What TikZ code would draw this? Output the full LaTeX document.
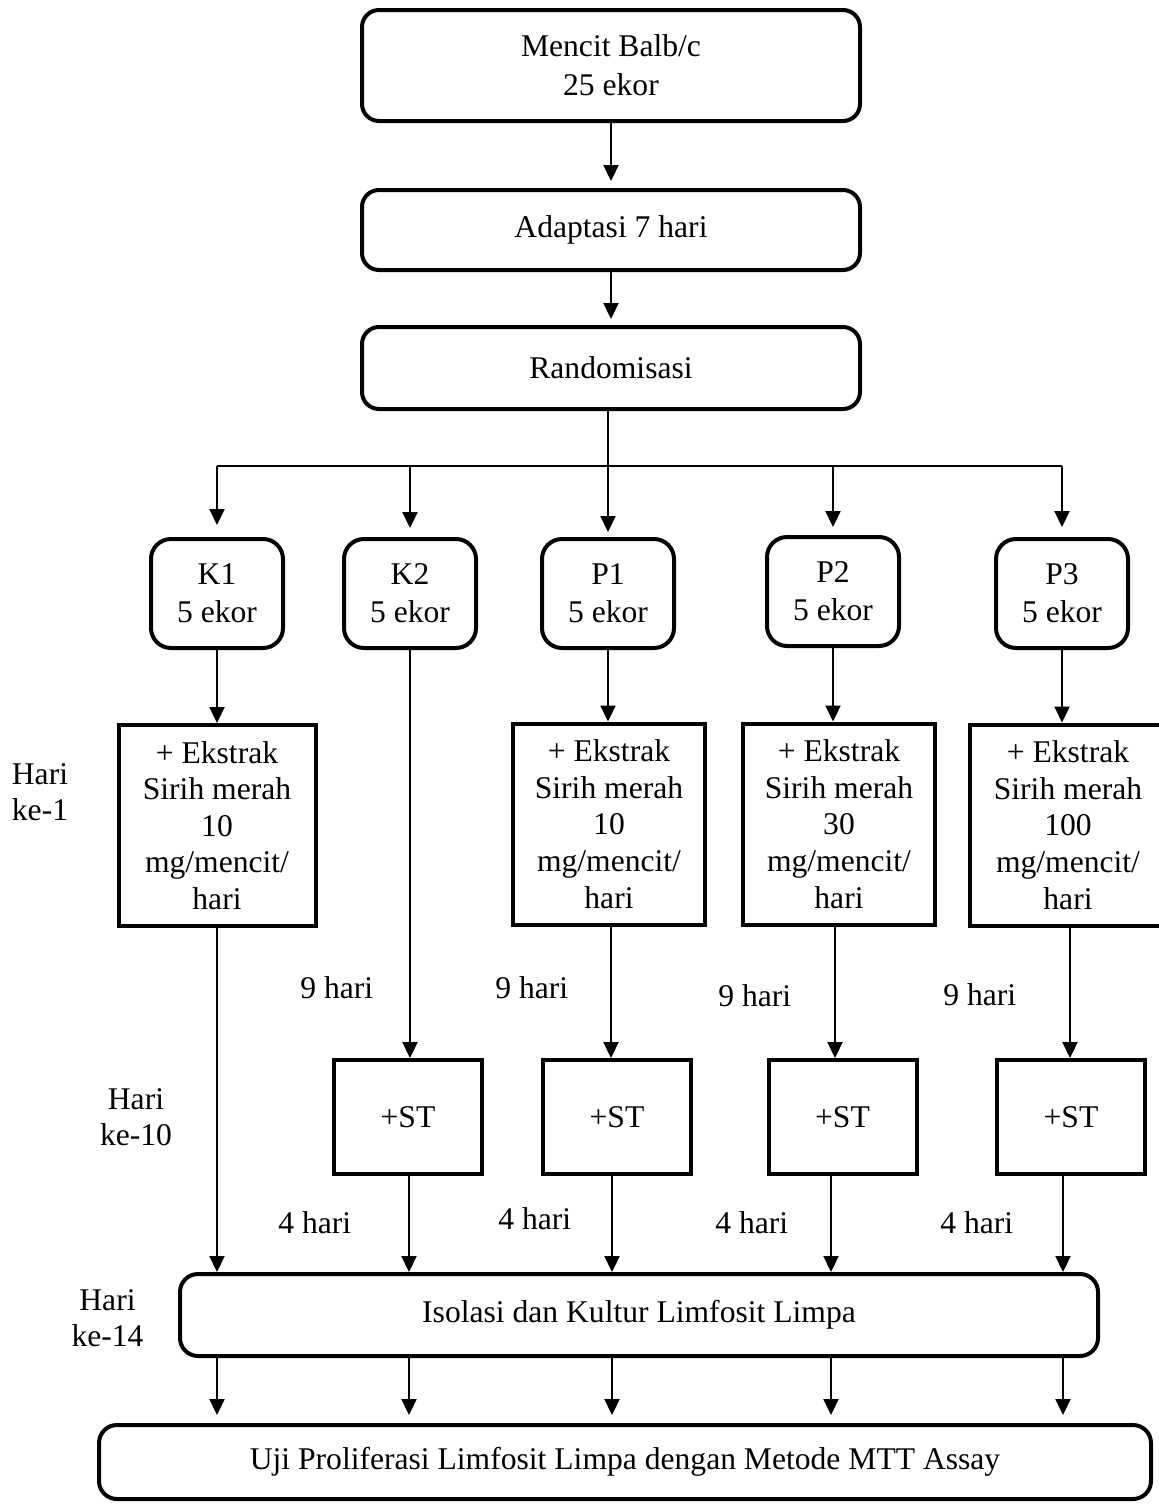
\documentclass[tikz,border=0pt]{standalone}
\usepackage{fontspec}
\setmainfont{Liberation Serif}
\usetikzlibrary{arrows.meta}
\begin{document}
\begin{tikzpicture}[x=0.5pt,y=-0.5pt,
  every node/.style={font=\fontsize{15.8pt}{18.3pt}\selectfont},
  bigbox/.style={draw, line width=2pt, rounded corners=8.5pt, inner sep=0pt, align=center},
  smallbox/.style={draw, line width=2pt, rounded corners=10pt, inner sep=0pt, align=center,
    minimum width=66pt, minimum height=54.5pt, font=\fontsize{15.8pt}{19pt}\selectfont},
  extbox/.style={draw, line width=2pt, inner sep=0pt, align=center,
    minimum width=96pt, minimum height=100.5pt},
  stbox/.style={draw, line width=2pt, inner sep=0pt, align=center,
    minimum width=74pt, minimum height=57pt},
  lbl/.style={inner sep=0pt, align=center, font=\fontsize{15.8pt}{18pt}\selectfont},
  durlbl/.style={inner sep=0pt, anchor=base west},
  arr/.style={-{Triangle[width=7.5pt,length=8pt]}, line width=1.1pt},
  conn/.style={line width=1.1pt},
  thinline/.style={line width=0.85pt}]
\useasboundingbox (0,0) rectangle (1159,1505);

% column coordinates
\coordinate (c1) at (217,0);
\coordinate (c2) at (409,0);
\coordinate (c3) at (612,0);
\coordinate (c4) at (831,0);
\coordinate (c5) at (1063,0);

% top boxes
\node[bigbox, minimum width=249pt, minimum height=55.5pt, font=\fontsize{15.8pt}{19.5pt}\selectfont] (mencit) at (611,65.5) {Mencit Balb/c\\25 ekor};
\node[bigbox, minimum width=249pt, minimum height=40pt] (adapt) at (611,230) {Adaptasi 7 hari};
\node[bigbox, minimum width=249pt, minimum height=41pt] (rand) at (611,368) {Randomisasi};

% groups
\node[smallbox] (k1) at (217,593.5) {K1\\5 ekor};
\node[smallbox] (k2) at (410,593.5) {K2\\5 ekor};
\node[smallbox] (p1) at (608,593.5) {P1\\5 ekor};
\node[smallbox] (p2) at (833,591.5) {P2\\5 ekor};
\node[smallbox] (p3) at (1062,593.5) {P3\\5 ekor};

\coordinate (hb) at (608,466);

% extract boxes
\node[extbox, minimum width=98.5pt] (ext1) at (217,825.5) {+ Ekstrak\\Sirih merah\\10\\mg/mencit/\\hari};
\node[extbox] (ext3) at (609,824) {+ Ekstrak\\Sirih merah\\10\\mg/mencit/\\hari};
\node[extbox] (ext4) at (839,824) {+ Ekstrak\\Sirih merah\\30\\mg/mencit/\\hari};
\node[extbox, minimum width=98pt] (ext5) at (1068,825) {+ Ekstrak\\Sirih merah\\100\\mg/mencit/\\hari};

% ST boxes
\node[stbox] (st2) at (408,1117) {+ST};
\node[stbox] (st3) at (617,1117) {+ST};
\node[stbox] (st4) at (842.5,1117) {+ST};
\node[stbox] (st5) at (1071,1117) {+ST};

% bottom boxes
\node[bigbox, rounded corners=9pt, minimum width=459pt, minimum height=41pt] (iso) at (639,1315) {Isolasi dan Kultur Limfosit Limpa};
\node[bigbox, rounded corners=9pt, minimum width=526pt, minimum height=37pt] (uji) at (625,1462) {Uji Proliferasi Limfosit Limpa dengan Metode MTT Assay};

% side labels
\node[lbl] (h1) at (40,792) {Hari\\ke-1};
\node[lbl] (h10) at (136,1117) {Hari\\ke-10};
\node[lbl] (h14) at (107.5,1318) {Hari\\ke-14};

\node[durlbl] (n9a) at (300,998) {9 hari};
\node[durlbl] (n9b) at (495,998) {9 hari};
\node[durlbl] (n9c) at (718,1006) {9 hari};
\node[durlbl] (n9d) at (943,1005) {9 hari};

\node[durlbl] (n4a) at (278,1233) {4 hari};
\node[durlbl] (n4b) at (498,1229) {4 hari};
\node[durlbl] (n4c) at (715,1233) {4 hari};
\node[durlbl] (n4d) at (940,1233) {4 hari};

% top connectors
\draw[arr, shorten >=3.5pt] (mencit.south) -- (adapt.north);
\draw[arr, shorten >=3pt] (adapt.south) -- (rand.north);

% branching
\draw[conn] (rand.south -| p1) -- (hb);
\draw[thinline] (k1 |- hb) -- (p3 |- hb);
\draw[arr, shorten >=6pt] (k1 |- hb) -- (k1.north);
\draw[arr, shorten >=4.5pt] (k2 |- hb) -- (k2.north);
\draw[arr, shorten >=2.5pt] (hb) -- (p1.north);
\draw[arr, shorten >=4pt] (p2 |- hb) -- (p2.north);
\draw[arr, shorten >=5pt] (p3 |- hb) -- (p3.north);

% groups to extract
\draw[arr] (k1.south) -- (k1.south |- ext1.north);
\draw[arr] (p1.south) -- (p1.south |- ext3.north);
\draw[arr] (p2.south) -- (p2.south |- ext4.north);
\draw[arr] (p3.south) -- (p3.south |- ext5.north);

% to ST
\draw[arr] (k2.south) -- (k2.south |- st2.north);
\draw[arr] ([xshift=1pt]ext3.south) -- ([xshift=1pt]ext3.south |- st3.north);
\draw[arr] ([xshift=-2pt]ext4.south) -- ([xshift=-2pt]ext4.south |- st4.north);
\draw[arr] ([xshift=1pt]ext5.south) -- ([xshift=1pt]ext5.south |- st5.north);

% to isolation
\draw[arr] (ext1.south) -- (ext1.south |- iso.north);
\draw[arr] (st2.south -| c2) -- (c2 |- iso.north);
\draw[arr] (st3.south -| c3) -- (c3 |- iso.north);
\draw[arr] (st4.south -| c4) -- (c4 |- iso.north);
\draw[arr] (st5.south -| c5) -- (c5 |- iso.north);

% isolation to test
\foreach \c in {c1,c2,c3,c4,c5}
  \draw[arr, shorten >=4pt] (iso.south -| \c) -- (\c |- uji.north);
\end{tikzpicture}
\end{document}
